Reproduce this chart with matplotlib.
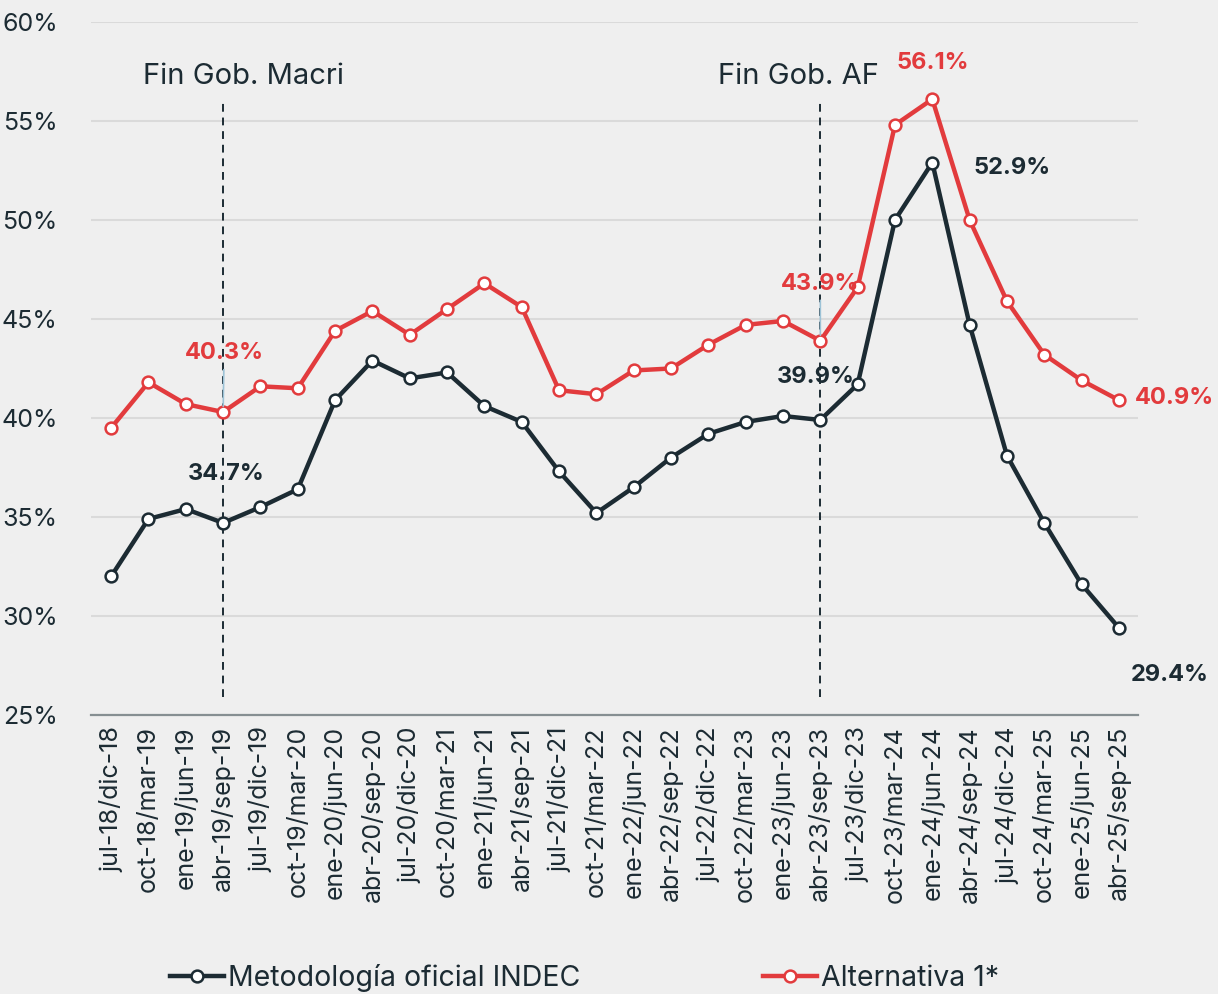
import matplotlib.pyplot as plt
import numpy as np

plt.rcParams['font.family'] = ['Inter', 'DejaVu Sans']

# periodos (semestres moviles)
periodos = ['jul-18/dic-18', 'oct-18/mar-19', 'ene-19/jun-19', 'abr-19/sep-19',
            'jul-19/dic-19', 'oct-19/mar-20', 'ene-20/jun-20', 'abr-20/sep-20',
            'jul-20/dic-20', 'oct-20/mar-21', 'ene-21/jun-21', 'abr-21/sep-21',
            'jul-21/dic-21', 'oct-21/mar-22', 'ene-22/jun-22', 'abr-22/sep-22',
            'jul-22/dic-22', 'oct-22/mar-23', 'ene-23/jun-23', 'abr-23/sep-23',
            'jul-23/dic-23', 'oct-23/mar-24', 'ene-24/jun-24', 'abr-24/sep-24',
            'jul-24/dic-24', 'oct-24/mar-25', 'ene-25/jun-25', 'abr-25/sep-25']

indec = [32.0, 34.9, 35.4, 34.7, 35.5, 36.4, 40.9, 42.9, 42.0, 42.3,
         40.6, 39.8, 37.3, 35.2, 36.5, 38.0, 39.2, 39.8, 40.1, 39.9,
         41.7, 50.0, 52.9, 44.7, 38.1, 34.7, 31.6, 29.4]
alternativa = [39.5, 41.8, 40.7, 40.3, 41.6, 41.5, 44.4, 45.4, 44.2, 45.5,
               46.8, 45.6, 41.4, 41.2, 42.4, 42.5, 43.7, 44.7, 44.9, 43.9,
               46.6, 54.8, 56.1, 50.0, 45.9, 43.2, 41.9, 40.9]

NEGRO = '#1c2b33'
ROJO = '#e23b3d'
FONDO = '#efefef'

fig = plt.figure(figsize=(12.18, 9.94), dpi=100, facecolor=FONDO)
ax = fig.add_axes([0.0747, 0.2807, 0.8596, 0.6972], facecolor=FONDO)

x = np.arange(len(periodos))
ax.plot(x, indec, color=NEGRO, lw=3.2, marker='o', ms=8.5, mfc='white',
        mec=NEGRO, mew=1.8, label='Metodología oficial INDEC', zorder=4)
ax.plot(x, alternativa, color=ROJO, lw=3.2, marker='o', ms=8.5, mfc='white',
        mec=ROJO, mew=1.8, label='Alternativa 1*', zorder=4)

# lineas de fin de gobierno
for i, txt, dx in [(3, 'Fin Gob. Macri', 20), (19, 'Fin Gob. AF', -22)]:
    ax.axvline(i, ymin=0.026, ymax=0.883, color=NEGRO, lw=1.4, ls=(0, (4, 3)), zorder=3)
    ax.annotate(txt, (i, 55.9), xytext=(dx, 27), textcoords='offset pixels',
                ha='center', va='center', fontsize=21, color=NEGRO)

# etiquetas de datos
etiquetas = [
    (3, alternativa, ROJO, (1, 59), True),
    (3, indec, NEGRO, (3, 49), False),
    (19, alternativa, ROJO, (0, 57), True),
    (19, indec, NEGRO, (-5, 43), False),
    (22, alternativa, ROJO, (0, 36), False),
    (22, indec, NEGRO, (80, -5), False),
    (27, alternativa, ROJO, (55, 2), False),
    (27, indec, NEGRO, (51, -47), False),
]
for i, serie, col, off, guia in etiquetas:
    props = dict(arrowstyle='-', color='#9cc2d6', lw=1.2, shrinkA=2, shrinkB=4) if guia else None
    ax.annotate(f'{serie[i]:.1f}%', (i, serie[i]), xytext=off, textcoords='offset pixels',
                ha='center', va='center', fontsize=17, fontweight='bold', color=col,
                arrowprops=props, zorder=6)

ax.set_ylim(25, 60)
ax.set_xlim(-0.54, 27.51)
ax.set_yticks(range(25, 61, 5))
ax.set_yticklabels([f'{v}%' for v in range(25, 61, 5)])
ax.set_xticks(x)
ax.set_xticklabels(periodos, rotation=90)
ax.tick_params(axis='y', length=0, pad=24, labelsize=18, labelcolor=NEGRO)
ax.tick_params(axis='x', length=0, pad=8, labelsize=18, labelcolor=NEGRO)
ax.grid(axis='y', color='#dadada', lw=1.5, zorder=0)
ax.set_axisbelow(True)
for s in ['top', 'right', 'left']:
    ax.spines[s].set_visible(False)
ax.spines['bottom'].set_color('#868f92')
ax.spines['bottom'].set_linewidth(1.6)

fig.legend(loc='lower center', bbox_to_anchor=(0.48, -0.024), ncol=2, frameon=False,
           fontsize=20.5, handlelength=1.9, handletextpad=0.15, columnspacing=6.4,
           labelcolor=NEGRO)

fig.savefig('out.png', dpi=100, facecolor=FONDO)
